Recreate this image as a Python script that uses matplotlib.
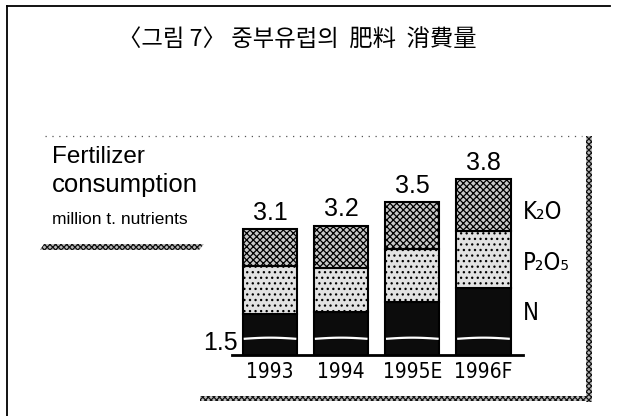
import matplotlib
matplotlib.use('Agg')
import matplotlib.pyplot as plt
from matplotlib.patches import Rectangle, Polygon
import numpy as np

# ---- data (million t. nutrients) ----
years = ['1993', '1994', '1995E', '1996F']
n_vals = [2.03, 2.06, 2.19, 2.37]
p2o5_vals = [0.62, 0.57, 0.69, 0.74]
k2o_vals = [0.49, 0.55, 0.61, 0.68]
total_labels = ['3.1', '3.2', '3.5', '3.8']
axis_start = 1.5
series_names = ['K\u2082O', 'P\u2082O\u2085', 'N']

plt.rcParams['font.family'] = ['Liberation Sans', 'DejaVu Sans']
plt.rcParams['hatch.linewidth'] = 0.9

W, H = 621, 416
fig = plt.figure(figsize=(W / 100, H / 100), dpi=100)

# overlay in pixel coordinates for frame & annotations
ov = fig.add_axes([0, 0, 1, 1], zorder=0)
ov.set_xlim(0, W)
ov.set_ylim(H, 0)
ov.axis('off')

# outer frame (left + top)
ov.plot([7, 7], [6, H], color='black', lw=1.3)
ov.plot([7, 610], [6, 6], color='black', lw=1.3)
# dotted top line of chart box
ov.plot([45, 582], [136, 136], color='#555555', lw=0.9, ls=(0, (1, 4.5)))
# hatched borders
strip = dict(facecolor='#bbbbbb', edgecolor='#111111', hatch='xxxxxx', lw=0)
ov.add_patch(Rectangle((586, 136), 6, 266, **strip))
ov.add_patch(Rectangle((200, 396), 392, 5, **strip))
ov.add_patch(Polygon([(40, 250), (44, 244), (204, 244), (199, 250)], closed=True, **strip))

# title
ov.text(297, 40, '〈그림 7〉 중부유럽의  肥料  消費量', ha='center', va='center',
        fontsize=16.8, family=['Noto Sans CJK KR', 'DejaVu Sans'])
# left texts
ov.text(52, 163, 'Fertilizer', fontsize=17.5, ha='left', va='baseline')
ov.text(52, 192, 'consumption', fontsize=18.5, ha='left', va='baseline')
ov.text(52, 224, 'million t. nutrients', fontsize=12.5, ha='left', va='baseline')

# ---- bar chart ----
ax = fig.add_axes([232 / W, 61 / H, 291 / W, 192.5 / H], zorder=1)
ax.patch.set_alpha(0)
x = np.arange(len(years))
bw = 0.76
n_arr = np.array(n_vals)
p_arr = np.array(p2o5_vals)
k_arr = np.array(k2o_vals)

ax.bar(x, n_arr, bw, color='#0c0c0c', edgecolor='black', lw=1.5)
ax.bar(x, p_arr, bw, bottom=n_arr, color='#e2e2e2', edgecolor='black', lw=1.5,
       hatch='...')
ax.bar(x, k_arr, bw, bottom=n_arr + p_arr, color='#c8c8c8', edgecolor='black', lw=1.5,
       hatch='xxxxx')

tops = n_arr + p_arr + k_arr
for xi, t, lab in zip(x, tops, total_labels):
    ax.annotate(lab, (xi, t), xytext=(0, 3), textcoords='offset points',
                ha='center', va='bottom', fontsize=18)

# axis break (white wavy line)
brk = axis_start + 0.21
for xi in x:
    xs = np.linspace(xi - bw / 2 + 0.01, xi + bw / 2 - 0.01, 30)
    ys = brk + 0.015 * np.sin(np.pi * (xs - xs[0]) / (xs[-1] - xs[0]))
    ax.plot(xs, ys, color='white', lw=1.6, solid_capstyle='butt')

ax.set_ylim(axis_start, 4.0)
ax.set_xlim(-0.534, 3.555)
for s in ['top', 'right', 'left']:
    ax.spines[s].set_visible(False)
ax.spines['bottom'].set_linewidth(2)
ax.set_xticks(x)
ax.set_xticklabels(years, fontsize=15, family=['DejaVu Sans'], stretch='condensed')
ax.tick_params(axis='x', length=0, pad=5)
ax.set_yticks([axis_start])
ax.set_yticklabels(['1.5'], fontsize=18, va='bottom')
ax.tick_params(axis='y', length=0, pad=-4)

# series labels at right
lab_y_px = [212, 263, 313]
for lab, yp in zip(series_names, lab_y_px):
    ov.text(523, yp, lab, fontsize=17, ha='left', va='center',
            family=['DejaVu Sans'], stretch='condensed')

fig.savefig('out.png', dpi=100)
